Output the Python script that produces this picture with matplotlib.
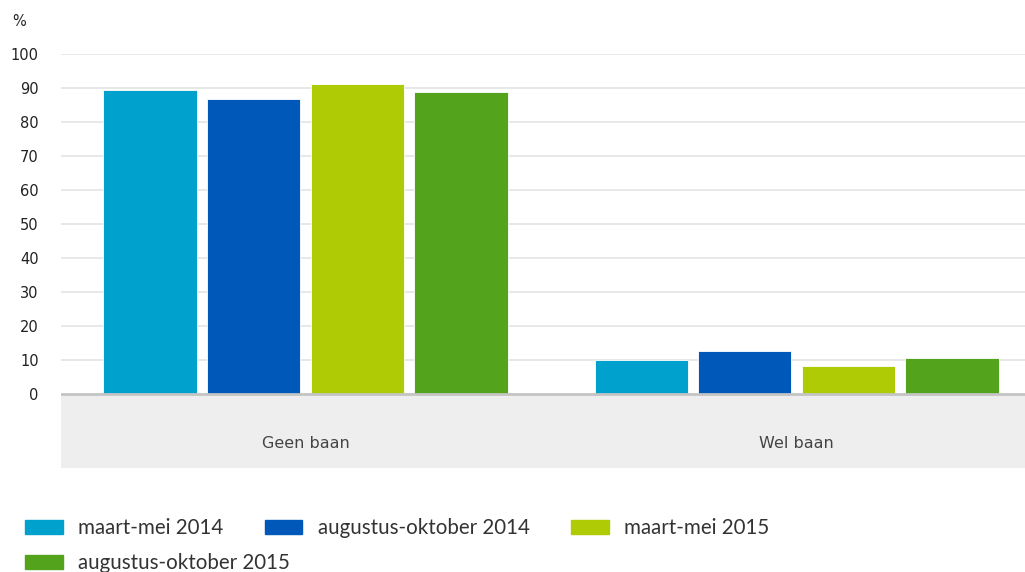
import matplotlib.pyplot as plt
import numpy as np
from matplotlib.patches import Patch

categories = ["Geen baan", "Wel baan"]
series = ["maart-mei 2014", "augustus-oktober 2014", "maart-mei 2015", "augustus-oktober 2015"]
values = [
    [89.3, 10.0],
    [86.7, 12.7],
    [91.1, 8.2],
    [88.9, 10.5],
]
colors = ["#00a1cd", "#0058b8", "#afcb05", "#53a31d"]
yticks = list(range(0, 101, 10))

fig = plt.figure(figsize=(10.25, 5.72), dpi=100)
ax = fig.add_axes([0.0595, 0.1818, 0.9405, 0.7238])

band_bottom = -21.8
x = np.arange(len(categories))
width = 0.19
step = 0.211
for i, (name, vals, c) in enumerate(zip(series, values, colors)):
    ax.bar(x + (i - 1.5) * step, vals, width, color=c, edgecolor="white",
           linewidth=0.6, zorder=3, label=name)

# grey band for category labels
ax.axhspan(band_bottom, 0, color="#eeeeee", zorder=1, lw=0)
ax.axhline(0, color="#c4c4c4", lw=2, zorder=4)
for t in yticks[1:]:
    ax.axhline(t, color="#e4e4e4", lw=1.2, zorder=2)
for xi, cat in zip(x, categories):
    ax.text(xi, -14.5, cat, ha="center", va="center", fontsize=11.5,
            color="#444444", family="DejaVu Sans")

ax.set_xlim(-0.498, 1.465)
ax.set_ylim(band_bottom, 100)
ax.set_yticks(yticks)
ax.set_yticklabels([str(t) for t in yticks], fontsize=10.5, color="#222222")
ax.tick_params(axis="y", length=0, pad=16)
ax.set_xticks([])
for s in ax.spines.values():
    s.set_visible(False)

fig.text(0.012, 0.962, "%", fontsize=10.5, color="#222222", va="center")

handles = [Patch(color=c) for c in colors]
leg_kw = dict(loc="center left", frameon=False, handlelength=1.84,
              handleheight=0.7, handletextpad=0.75, columnspacing=2.0,
              borderpad=0, borderaxespad=0, labelcolor="#333333",
              prop={"family": "Lato", "size": 14.8})
leg1 = fig.legend(handles[:3], series[:3], ncol=3,
                  bbox_to_anchor=(0.0244, 0.0769), **leg_kw)
fig.legend(handles[3:], series[3:], ncol=1,
           bbox_to_anchor=(0.0244, 0.0157), **leg_kw)

fig.savefig("out.png", dpi=100)
